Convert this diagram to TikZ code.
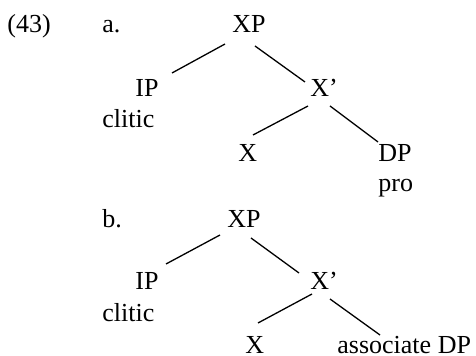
\documentclass[tikz,border=0pt]{standalone}
\usepackage{fontspec}
\setmainfont{Liberation Serif}
\usetikzlibrary{calc}
\begin{document}
\begin{tikzpicture}[x=0.5pt,y=-0.5pt,
  lbl/.style={inner sep=0pt, anchor=base west, font=\fontsize{13}{15}\selectfont},
  edge/.style={line width=0.65pt}]
\useasboundingbox (0,0) rectangle (476,356);
% tree a
\node[lbl] (n43) at (7,33) {(43)};
\node[lbl] (la) at (102,33) {a.};
\node[lbl] (xpa) at (232,33) {XP};
\node[lbl] (ipa) at (135,97) {IP};
\node[lbl] (xba) at (310,97) {X’};
\node[lbl] (clitica) at (102,128) {clitic};
\node[lbl] (xa) at (238,162) {X};
\node[lbl] (dpa) at (378,162) {DP};
\node[lbl] (proa) at (378,192) {pro};
\draw[edge] ($(xpa.base west)+(-7,11)$) -- ($(ipa.base west)+(37,-24)$);
\draw[edge] ($(xpa.base west)+(23,13)$) -- ($(xba.base west)+(-5,-15)$);
\draw[edge] ($(xba.base west)+(-2,9)$) -- ($(xa.base west)+(15,-27)$);
\draw[edge] ($(xba.base west)+(20,9)$) -- ($(dpa.base west)+(0,-20)$);
% tree b
\node[lbl] (lb) at (102,228) {b.};
\node[lbl] (xpb) at (227,228) {XP};
\node[lbl] (ipb) at (135,290) {IP};
\node[lbl] (xbb) at (310,290) {X’};
\node[lbl] (cliticb) at (102,322) {clitic};
\node[lbl] (xb) at (245,354) {X};
\node[lbl] (assoc) at (337,354) {associate DP};
\draw[edge] ($(xpb.base west)+(-7,7)$) -- ($(ipb.base west)+(31,-26)$);
\draw[edge] ($(xpb.base west)+(24,10)$) -- ($(xbb.base west)+(-11,-17)$);
\draw[edge] ($(xbb.base west)+(2,4)$) -- ($(xb.base west)+(13,-31)$);
\draw[edge] ($(xbb.base west)+(20,9)$) -- ($(assoc.base west)+(43,-19)$);
\end{tikzpicture}
\end{document}
